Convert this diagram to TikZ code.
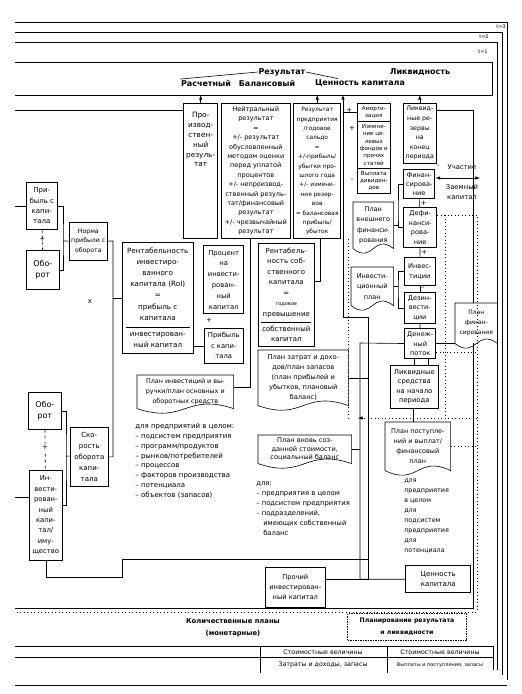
\documentclass[tikz,border=0pt]{standalone}
\usepackage{fontspec}
\setmainfont{DejaVu Sans}
\usetikzlibrary{calc}

\def\fs#1#2{\fontsize{#1}{#2}\selectfont}
% document shape with wavy bottom
\def\docwave#1{\draw (#1.north west) -- (#1.north east) -- (#1.south east) .. controls ($(#1.south east)!0.5!(#1.south west)+(0,-16)$) and ($(#1.south west)!0.5!(#1.south east)+(0,16)$) .. (#1.south west) -- cycle;}

\begin{document}
\begin{tikzpicture}[x=1pt,y=-1pt,line width=0.6pt]
\tikzstyle{boite}=[draw,anchor=north west,align=center,inner sep=0.5pt,font=\fs{6.5}{9.4}]
\tikzstyle{gras}=[boite,line width=1.4pt]
\tikzstyle{doc}=[anchor=north west,align=center,inner sep=0.5pt,font=\fs{6.3}{9.8}]
\tikzstyle{liste}=[anchor=north west,align=left,inner sep=0pt,font=\fs{7}{9.8}]
\tikzstyle{titre}=[font=\fs{8}{9}\bfseries,inner sep=0.5pt]
\tikzstyle{signe}=[font=\fs{7}{7},inner sep=0pt]
\tikzstyle{fleche}=[->,>=latex]
\tikzstyle{pointille}=[dash pattern=on 0.9pt off 2.6pt,line width=0.9pt]
\tikzstyle{cadre}=[line width=0.8pt]

\useasboundingbox (0,0) rectangle (522,694);

% stacked pages
\draw[cadre] (15,22) -- (507,22) -- (507,680);
\draw[cadre] (15,32) -- (502,32) -- (502,675);
\draw[cadre] (15,42) -- (497,42) -- (497,670);
\node[signe,font=\fs{5}{5}] (t3) at (501,27) {t=3};
\node[signe,font=\fs{5}{5}] (t2) at (484,37) {t=2};
\node[signe,font=\fs{5}{5}] (t1) at (483,52) {t=1};
\draw[cadre] (15,685) -- (507,685);

% header
\draw[cadre] (15,62) -- (492,62) -- (492,95) -- (15,95);
\coordinate (hb) at (0,95);
\node[titre] (res) at (282,72) {Результат};
\node[titre] (rasch) at (206,83) {Расчетный};
\node[titre] (bal) at (267,83) {Балансовый};
\node[titre] (cenk) at (360,83) {Ценность капитала};
\node[titre] (likv) at (420,72) {Ликвидность};
\draw (res.west) -- (rasch.north west);
\draw (res.east) -- ([xshift=-22pt]cenk.north);

% inner frame
\draw[cadre] (15,110) -- (183,110);
\draw[cadre] (436,110) -- (473,110) -- (473,608) -- (15,608);

% top row
\node[gras,minimum width=34pt,minimum height=135pt,label={[anchor=north,align=center,font=\fs{7.3}{9.8},yshift=-6pt]north:Про-\\извод-\\ствен-\\ный\\резуль-\\тат}] (prod) at (183,103) {};
\node[boite,minimum width=69pt,minimum height=135pt,font=\fs{6.5}{9.4}] (neut) at (221,103) {Нейтральный\\результат\\=\\+/- результат\\обусловленный\\методом оценки\\перед уплатой\\процентов\\+/- непроизвод-\\ственный резуль-\\тат/финансовый\\результат\\+/- чрезвычайный\\результат};
\node[gras,minimum width=47pt,minimum height=135pt,font=\fs{5.9}{9.4}] (resp) at (293,103) {Результат\\предприятия\\/годовое\\сальдо\\=\\+/-прибыль/\\убытки про-\\шлого года\\+/- измене-\\ния резер-\\вов\\= балансовая\\прибыль/\\убыток};
\node[boite,minimum width=33pt,minimum height=18pt,font=\fs{5.6}{7.2}] (amort1) at (357,103) {Аморти-\\зация};
\node[boite,minimum width=33pt,minimum height=47pt,font=\fs{5.6}{7.4}] (amort2) at (357,121) {Измене-\\ние це-\\левых\\фондов и\\прочих\\статей};
\node[boite,minimum width=33pt,minimum height=25pt,font=\fs{5.6}{7.4}] (amort3) at (357,168) {Выплата\\дивиден-\\дов};
\node[boite,minimum width=33pt,minimum height=60pt,font=\fs{6.3}{9.6}] (lres) at (403,103) {Ликвид-\\ные ре-\\зервы\\на\\конец\\периода};

\draw[fleche] (prod) -- (prod.north |- hb);
\draw[fleche] (resp) -- (resp.north |- hb);
\draw[fleche] (lres) -- (lres.north |- hb);

% liquidity chain
\node[gras,minimum width=31pt,minimum height=29pt,font=\fs{6.6}{9.4}] (fin) at (403,169) {Финан-\\сирова-\\ние};
\node[gras,minimum width=33pt,minimum height=40pt,font=\fs{6.6}{9.4}] (defin) at (403,207) {Дефи-\\нанси-\\рова-\\ние};
\node[boite,minimum width=31pt,minimum height=28pt,font=\fs{6.6}{9.8}] (inv) at (404,257) {Инвес-\\тиции};
\node[boite,minimum width=31pt,minimum height=31pt,font=\fs{6.6}{9.6}] (dezinv) at (404,292) {Дезин-\\вести-\\ции};
\node[gras,minimum width=31pt,minimum height=30pt,font=\fs{6.6}{9.4}] (dpotok) at (404,328) {Денеж-\\ный\\поток};
\node[boite,minimum width=48pt,minimum height=43pt,font=\fs{6.8}{9.6}] (lsr) at (390,365) {Ликвидные\\средства\\на начало\\периода};
\node[doc,minimum width=65pt,minimum height=48pt,font=\fs{6.5}{10.2}] (pplan) at (385,422) {План поступле-\\ний и выплат/\\финансовый\\план};
\docwave{pplan}
\node[liste,font=\fs{6.4}{9.9}] (l3) at (404,479) {для\\предприятия\\в целом\\для\\подсистем\\предприятия\\для\\потенциала};
\node[gras,minimum width=65pt,minimum height=27pt,font=\fs{7}{9.6}] (cenk2) at (405,565) {Ценность\\капитала};

\draw (fin) -- (defin) node[signe,midway,right=1pt] {+};
\draw (defin) -- (inv) node[signe,midway,right=1pt] {+};
\draw (inv) -- (dezinv) node[signe,midway,right=1pt] {–};
\draw (dezinv) -- (dpotok);
\draw ([xshift=-6pt]dpotok.south) -- ([xshift=-6pt]dpotok.south |- lsr.north);
\draw ([xshift=8pt]dpotok.south) -- ([xshift=8pt]dpotok.south |- lsr.north);
\draw ([xshift=-1pt]lsr.south) -- ([xshift=-1pt]lsr.south |- pplan.north);
\node[signe] (m1) at (438,166) {–};

\coordinate (uc) at (480,178);
\draw[<->,>=latex] (fin.east |- uc) -- (uc);
\node[font=\fs{6.8}{8}] (ucast) at (462,167) {Участие};
\node[align=center,font=\fs{6.8}{9.5}] (zaem) at (462,192) {Заемный\\капитал};

% plan documents on the right
\node[doc,minimum width=40pt,minimum height=46pt,font=\fs{6.5}{10.6}] (pvfin) at (353,202) {План\\внешнего\\финанси-\\рования};
\docwave{pvfin}
\node[doc,minimum width=42pt,minimum height=38pt,font=\fs{6.5}{10.6}] (pinvp) at (351,267) {Инвести-\\ционный\\план};
\docwave{pinvp}
\node[doc,fill=white,minimum width=42pt,minimum height=40pt,font=\fs{6}{10}] (pfin) at (455,303) {План\\финан-\\сирования};
\docwave{pfin}

\coordinate (b4) at (398,215);
\draw (fin.west) -| (b4) |- (defin.west);
\draw (pvfin) -- (pvfin -| b4);
\coordinate (b5) at (398,288);
\draw (inv.west) -| (b5) |- (dezinv.west);
\draw (pinvp) -- (pinvp -| b5);
\draw (dpotok) -- (dpotok -| pfin.west);

% capital value line
\coordinate (k6) at (368,317);
\coordinate (k7) at (343,317);
\coordinate (k8) at (360,343);
\draw[fleche] (k6) -- (k7) -- (k7 |- hb);
\draw (k7 |- amort1.west) -- (amort1.west) node[signe,pos=0.45,above] {+};
\node[signe] (p2) at (352,128) {+};
\node[signe] (m2) at (352,180) {–};
\draw (cenk2) -| (k8) -- (dpotok);

% left column
\coordinate (l1) at (15,206);
\coordinate (l2) at (15,497);
\node[boite,minimum width=31pt,minimum height=47pt,font=\fs{7}{10.3}] (pkap1) at (26,182) {При-\\быль с\\капи-\\тала};
\node[boite,minimum width=33pt,minimum height=39pt,font=\fs{8}{11.5}] (obor1) at (26,250) {Обо-\\рот};
\node[boite,minimum width=38pt,minimum height=38pt,font=\fs{6.2}{9.8}] (norma) at (69,222) {Норма\\прибыли с\\оборота};
\draw[dashed] (pkap1) -- (obor1) node[signe,midway,fill=white] {+};
\draw (l1) -- (l1 -| pkap1.west);
\coordinate (b1) at (63,241);
\draw (pkap1) -| (b1) |- (obor1);
\draw (b1) -- (norma);

\node[boite,minimum width=33pt,minimum height=37pt,font=\fs{8}{11.5}] (obor2) at (28,392) {Обо-\\рот};
\node[boite,minimum width=33pt,minimum height=90pt,font=\fs{6.8}{10.4}] (invk) at (29,470) {Ин-\\вести-\\рован-\\ный\\капи-\\тал/\\иму-\\щество};
\node[boite,minimum width=38pt,minimum height=59pt,font=\fs{7}{11}] (skor) at (70,427) {Ско-\\рость\\оборота\\капи-\\тала};
\draw[dashed] (obor2) -- (invk) node[signe,pos=0.45,fill=white] {+};
\draw (l2) -- (l2 -| invk.west);
\coordinate (b2) at (66,456);
\draw (obor2) -| (b2) |- ([yshift=10pt]invk.east);
\draw (b2) -- (skor);

\coordinate (v1) at (113,241);
\draw (norma) -- (v1) -- (v1 |- skor) -- (skor);
\node[signe] (fois) at (90,302) {x};

% profitability
\node[boite,minimum width=71pt,minimum height=111pt,font=\fs{7.2}{11.2}] (rent) at (122,242) {Рентабельность\\инвестиро-\\ванного\\капитала (RoI)\\=\\прибыль с\\капитала\\[-4pt]\rule{64pt}{0.5pt}\\[-2pt]инвестирован-\\ный капитал};
\draw (v1 |- rent) -- (rent);
\node[gras,minimum width=40pt,minimum height=68pt,font=\fs{6.8}{10.8}] (proc) at (203,245) {Процент\\на\\инвести-\\рован-\\ный\\капитал};
\node[boite,minimum width=39pt,minimum height=35pt,font=\fs{6.8}{10.4}] (pkap2) at (204,328) {Прибыль\\с капи-\\тала};
\node[signe] (p3) at (209,320) {+};
\draw (rent.east |- pkap2) -- (pkap2);
\node[boite,minimum width=56pt,minimum height=103pt,font=\fs{7}{10.5}] (rentsk) at (258,243) {Рентабель-\\ность соб-\\ственного\\капитала\\=\\{\fs{5}{6}годовое}\\превышение\\[-4pt]\rule{50pt}{0.5pt}\\[-2pt]собственный\\капитал};
\coordinate (k3) at (320,281);
\draw (k3 |- resp.south) -- (k3) -- (k3 -| rentsk.east);
\coordinate (k2) at (250,387);

% plans in the middle
\node[doc,minimum width=90pt,minimum height=55pt,font=\fs{6.7}{10}] (pzat) at (258,350) {План затрат и дохо-\\дов/план запасов\\(план прибылей и\\убытков, плановый\\баланс)};
\docwave{pzat}
\node[doc,minimum width=96pt,minimum height=33pt,font=\fs{6.4}{10.4}] (pinv) at (137,375) {План инвестиций и вы-\\ручки/план основных и\\оборотных средств};
\docwave{pinv}
\draw (k2 |- neut.south) -- (k2) -- (k2 -| pinv.east);
\node[liste] (l1txt) at (135,423) {для предприятий в целом:\\– подсистем предприятия\\– программ/продуктов\\– рынков/потребителей\\– процессов\\– факторов производства\\– потенциала\\– объектов (запасов)};
\node[doc,minimum width=93pt,minimum height=28pt,font=\fs{6.6}{8.4}] (pvn) at (258,435) {План вновь соз-\\данной стоимости,\\социальный баланс};
\docwave{pvn}
\node[liste,font=\fs{6.8}{10}] (l2txt) at (256,481) {для:\\– предприятия в целом\\– подсистем предприятия\\– подразделений,\\\hspace*{7pt}имеющих собственный\\\hspace*{7pt}баланс};

\node[boite,minimum width=60pt,minimum height=40pt,font=\fs{6.7}{10}] (proch) at (265,567) {Прочий\\инвестирован-\\ный капитал};
\draw ([yshift=8pt]proch.east) -| (k6);
\draw (pzat.east) -- (pzat.east -| k6);
\draw (pvn) -- (pvn -| k8);
\coordinate (b3) at (122,577);
\coordinate (b3b) at (122,559);
\draw (invk.south) |- (b3) -- (b3b) -- (b3b -| k6);

% dotted links
\coordinate (d1) at (477,215);
\coordinate (d2) at (477,612);
\coordinate (d3) at (15,612);
\coordinate (d4) at (358,418);
\coordinate (d5) at (445,418);
\coordinate (d6) at (348,418);
\draw[pointille] (defin.east |- d1) -- (d1) -- (d2) -- (d3);
\draw[pointille] (pplan) -- (pplan -| d1);
\draw[pointille] (d5 |- d1) -- (d5);
\draw[pointille] (dpotok.east |- 0,352) -- (d1 |- 0,352);
\draw[pointille] (d6 |- resp.south) -- (d6);
\draw[pointille] (d4 -| d1) -- (d4);
\draw[->,>=latex] ([xshift=4pt]d4) -- (d4);

% bottom
\node[font=\fs{6.8}{12}\bfseries,align=center] (kolpl) at (233,628) {Количественные планы\\(монетарные)};
\node[font=\fs{6.2}{12}\bfseries,align=center,draw,dash pattern=on 1.5pt off 1pt,line width=0.9pt,minimum width=119pt,minimum height=27pt] (planres) at (407,627) {Планирование результата\\и ликвидности};
\draw[cadre] (15,646) -- (493,646) -- (493,670);
\draw[cadre] (15,657) -- (493,657);
\draw[cadre] (260,646) -- (260,673);
\draw[cadre] (387,646) -- (387,673);
\node[font=\fs{6.3}{7}] (st1) at (323,652) {Стоимостные величины};
\node[font=\fs{6.3}{7}] (st2) at (440,652) {Стоимостные величины};
\node[font=\fs{6.3}{7}] (zd) at (323,665) {Затраты и доходы, запасы};
\node[font=\fs{5}{6}] (vp) at (440,665) {Выплаты и поступления, запасы};
\end{tikzpicture}
\end{document}
